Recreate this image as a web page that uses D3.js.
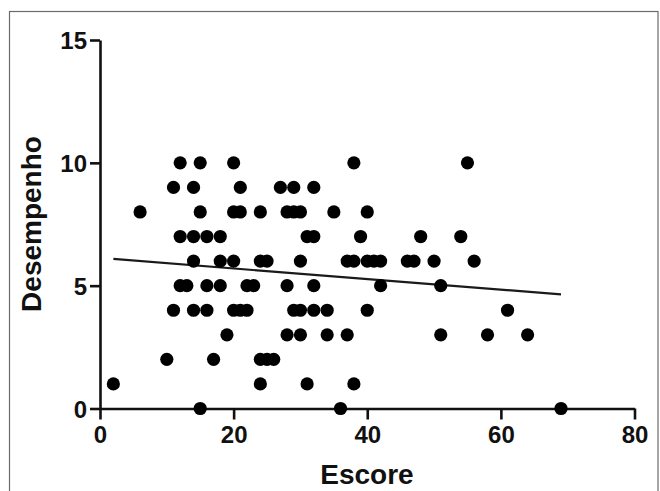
<!DOCTYPE html>
<html>
<head>
<meta charset="utf-8">
<script src="https://cdn.jsdelivr.net/npm/d3@7"></script>
<style>
  body { margin: 0; background: #fff; }
  svg { display: block; }
  text { font-family: "Liberation Sans", Arial, Helvetica, sans-serif; font-weight: bold; }
</style>
</head>
<body>
<svg id="chart" width="660" height="491"></svg>
<script>
// Desempenho (y) rows and the Escore (x) values read for each row
const desempenhoLevels = [10, 9, 8, 7, 6, 5, 4, 3, 2, 1, 0];
const escoreByLevel = [
    [12, 15, 20, 38, 55],
    [11, 14, 21, 27, 29, 32],
    [6, 15, 20, 21, 24, 28, 29, 30, 35, 40],
    [12, 14, 16, 18, 31, 32, 39, 48, 54],
    [14, 18, 20, 24, 25, 30, 37, 38, 40, 41, 42, 46, 47, 50, 56],
    [12, 13, 16, 18, 22, 23, 28, 32, 42, 51],
    [11, 14, 16, 20, 21, 22, 29, 30, 32, 34, 40, 61],
    [19, 28, 30, 34, 37, 51, 58, 64],
    [10, 17, 24, 25, 26],
    [2, 24, 31, 38],
    [15, 36, 69]
];
// fitted line
const fitIntercept = 6.13;
const fitSlope = -0.0215;
const xTicks = [0, 20, 40, 60, 80];
const yTicks = [0, 5, 10, 15];
const xLabel = "Escore";
const yLabel = "Desempenho";

const points = [];
desempenhoLevels.forEach((yv, i) => {
    escoreByLevel[i].forEach(xv => points.push({ x: xv, y: yv }));
});

const svg = d3.select("#chart");

// outer frame
svg.append("rect")
    .attr("x", 9.5).attr("y", 11.5)
    .attr("width", 648.5).attr("height", 520)
    .attr("fill", "none")
    .attr("stroke", "#6b6b6b")
    .attr("stroke-width", 1.2);

const x = d3.scaleLinear().domain([0, 80]).range([100, 634.5]);
const y = d3.scaleLinear().domain([0, 15]).range([408.5, 40]);

const xAxis = svg.append("g")
    .attr("transform", `translate(0,${y(0)})`)
    .call(d3.axisBottom(x).tickValues(xTicks).tickSize(11).tickSizeOuter(0).tickPadding(6));

const yAxis = svg.append("g")
    .attr("transform", `translate(${x(0)},0)`)
    .call(d3.axisLeft(y).tickValues(yTicks).tickSize(10).tickSizeOuter(0).tickPadding(3));

[xAxis, yAxis].forEach(a => {
    a.select(".domain").attr("stroke", "#111").attr("stroke-width", 2.6);
    a.selectAll(".tick line").attr("stroke", "#111").attr("stroke-width", 2.6);
    a.selectAll(".tick text")
        .attr("fill", "#111")
        .style("font-size", "24px")
        .style("font-family", "'Liberation Sans', Arial, sans-serif")
        .style("font-weight", "bold");
});
yAxis.selectAll(".tick text").attr("dy", "0.36em");
xAxis.selectAll(".tick text").attr("dy", "0.72em");

// regression line across the range of the points
const [xMin, xMax] = d3.extent(points, d => d.x);

svg.append("line")
    .attr("x1", x(xMin)).attr("y1", y(fitIntercept + fitSlope * xMin))
    .attr("x2", x(xMax)).attr("y2", y(fitIntercept + fitSlope * xMax))
    .attr("stroke", "#1a1a1a")
    .attr("stroke-width", 2.2);

svg.append("g")
    .selectAll("circle")
    .data(points)
    .join("circle")
    .attr("cx", d => x(d.x))
    .attr("cy", d => y(d.y))
    .attr("r", 6.6)
    .attr("fill", "#000");

svg.append("text")
    .attr("x", 367).attr("y", 484)
    .attr("text-anchor", "middle")
    .style("font-size", "28px")
    .attr("fill", "#111")
    .text(xLabel);

svg.append("text")
    .attr("transform", "translate(41,224) rotate(-90)")
    .attr("text-anchor", "middle")
    .style("font-size", "28px")
    .attr("fill", "#111")
    .text(yLabel);
</script>
</body>
</html>
